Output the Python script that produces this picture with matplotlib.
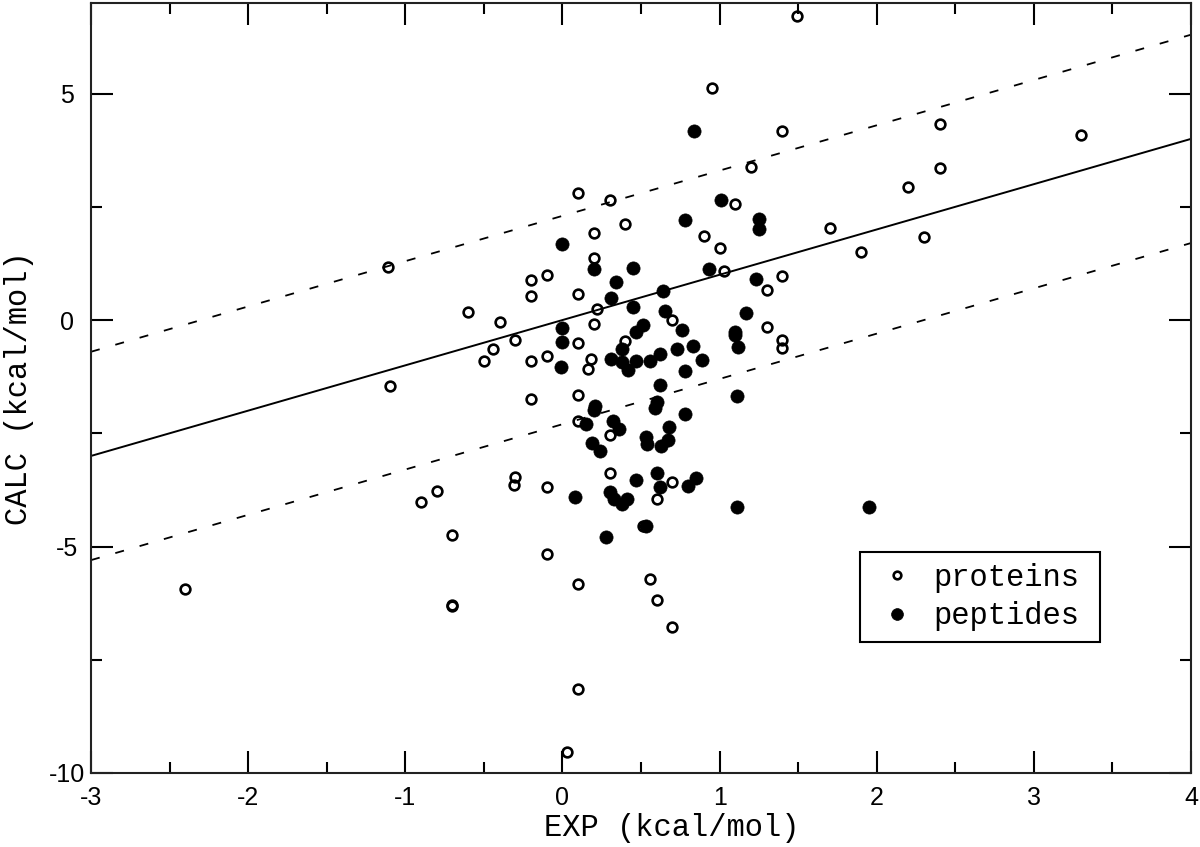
import matplotlib
matplotlib.use("Agg")
import matplotlib.pyplot as plt
import numpy as np
from matplotlib.ticker import MultipleLocator

proteins_x = [1.49, 0.95, 1.40, 1.20, 0.10, 0.30, 1.10, 0.40, 0.20, 0.90, 1.00, 0.20, 1.03,
              -0.10, -0.20, 1.40, 1.30, -0.20, 0.10, -0.60, -0.40, 0.70, 0.22, 0.20, 1.30,
              1.40, 1.40, -0.30, -0.44, -0.50, 0.10, 0.40, -0.20, -0.10, 0.18, 0.16, -0.20,
              0.10, 0.10, 0.30, -0.30, -0.31, -0.80, -0.90, -0.10, 0.30, 0.70, 0.60, 0.51,
              -0.70, -0.10, 0.10, 0.56, 0.60, -0.70, -0.70, 0.70, 0.10, 0.03, 2.40, 3.30,
              2.40, 2.20, 1.70, 2.30, 1.90, -1.10, -2.40, -1.11]
proteins_y = [6.71, 5.12, 4.17, 3.37, 2.80, 2.64, 2.57, 2.12, 1.93, 1.85, 1.60, 1.38, 1.09,
              0.99, 0.88, 0.97, 0.67, 0.54, 0.57, 0.17, -0.05, 0.00, 0.24, -0.08, -0.15,
              -0.44, -0.62, -0.45, -0.63, -0.90, -0.50, -0.46, -0.90, -0.79, -0.85, -1.08, -1.74,
              -1.65, -2.22, -2.54, -3.46, -3.65, -3.78, -4.02, -3.69, -3.38, -3.57, -3.96, -4.54,
              -4.75, -5.16, -5.83, -5.71, -6.18, -6.31, -6.28, -6.78, -8.15, -9.54, 4.32, 4.08,
              3.35, 2.93, 2.03, 1.83, 1.50, -1.46, -5.94, 1.18]

peptides_x = [0.84, 1.01, 0.78, 1.25, 1.25, 0.00, 0.20, 0.45, 0.93, 0.34, 1.23, 0.64, 0.31,
              0.45, 0.65, 1.17, 0.00, 0.51, 0.47, 0.76, 1.10, 1.10, 0.00, 0.38, 0.73, 0.83,
              1.12, -0.01, 0.31, 0.38, 0.42, 0.47, 0.56, 0.62, 0.78, 0.89, 0.62, 1.11, 0.21,
              0.20, 0.60, 0.59, 0.78, 0.15, 0.32, 0.36, 0.68, 0.53, 0.54, 0.67, 0.63, 0.19,
              0.24, 0.08, 0.30, 0.33, 0.38, 0.41, 0.47, 0.60, 0.62, 0.80, 0.85, 1.11, 0.53,
              0.28, 1.95]
peptides_y = [4.17, 2.64, 2.20, 2.24, 2.02, 1.68, 1.12, 1.16, 1.12, 0.85, 0.90, 0.65, 0.49,
              0.29, 0.21, 0.15, -0.18, -0.10, -0.27, -0.23, -0.26, -0.34, -0.49, -0.65, -0.64, -0.57,
              -0.60, -1.04, -0.86, -0.93, -1.10, -0.90, -0.90, -0.74, -1.12, -0.88, -1.43, -1.68, -1.89,
              -1.98, -1.81, -1.95, -2.07, -2.30, -2.22, -2.40, -2.37, -2.59, -2.74, -2.65, -2.79, -2.72,
              -2.90, -3.91, -3.80, -3.96, -4.06, -3.96, -3.53, -3.37, -3.69, -3.66, -3.49, -4.13, -4.54,
              -4.79, -4.12]

line_x = [-3, 4]
band = 2.3

plt.rcParams['axes.unicode_minus'] = False

fig = plt.figure(figsize=(12, 8.47), dpi=100)
ax = fig.add_axes([91/1200, 74/847, 1100/1200, 770/847])

xs = np.array(line_x, dtype=float)
ax.plot(xs, xs, color='black', lw=1.4, zorder=1)
ax.plot(xs, xs + band, color='black', lw=1.3, dashes=(5, 9), zorder=1)
ax.plot(xs, xs - band, color='black', lw=1.3, dashes=(5, 9), zorder=1)

ax.plot(proteins_x, proteins_y, linestyle='none', marker='o', markersize=7,
        markerfacecolor='none', markeredgecolor='black', markeredgewidth=1.9,
        label='proteins', zorder=3)
ax.plot(peptides_x, peptides_y, linestyle='none', marker='o', markersize=9.5,
        markerfacecolor='black', markeredgecolor='black', markeredgewidth=0.5,
        label='peptides', zorder=3)

ax.set_xlim(-3, 4)
ax.set_ylim(-10, 7)
ax.xaxis.set_major_locator(MultipleLocator(1))
ax.xaxis.set_minor_locator(MultipleLocator(0.5))
ax.yaxis.set_major_locator(MultipleLocator(5))
ax.yaxis.set_minor_locator(MultipleLocator(2.5))

ax.tick_params(which='both', direction='in', top=True, right=True, width=1.5, color='black')
ax.tick_params(which='major', length=15.8)
ax.tick_params(which='minor', length=7.9)
ax.tick_params(axis='x', which='major', pad=9, labelsize=18)
ax.tick_params(axis='y', which='major', pad=17, labelsize=18)
for lab in ax.get_xticklabels() + ax.get_yticklabels():
    lab.set_fontfamily('Liberation Sans')
for lab in ax.get_yticklabels():
    lab.set_horizontalalignment('center')

for sp in ax.spines.values():
    sp.set_linewidth(1.5)
    sp.set_color('#222222')

ax.set_xlabel('EXP (kcal/mol)', fontfamily='Liberation Mono', fontsize=22, va='center')
ax.xaxis.set_label_coords(0.528, -55/770)
ax.set_ylabel('CALC (kcal/mol)', fontfamily='Liberation Mono', fontsize=22, va='center')
ax.yaxis.set_label_coords(-72/1100, 0.5)

leg = ax.legend(loc='lower left', bbox_to_anchor=(0.699, 0.170, 0.218, 0.116), mode='expand',
                prop={'family': 'Liberation Mono', 'size': 22}, frameon=True, fancybox=False,
                edgecolor='black', borderpad=0.35, labelspacing=0.28, handlelength=1.75,
                handletextpad=0.3, borderaxespad=0)
leg.get_frame().set_linewidth(1.5)
leg.get_frame().set_alpha(1)
leg.legend_handles[0].set_markersize(5.5)
leg.legend_handles[1].set_markersize(8.5)

fig.savefig('out.png', dpi=100)
